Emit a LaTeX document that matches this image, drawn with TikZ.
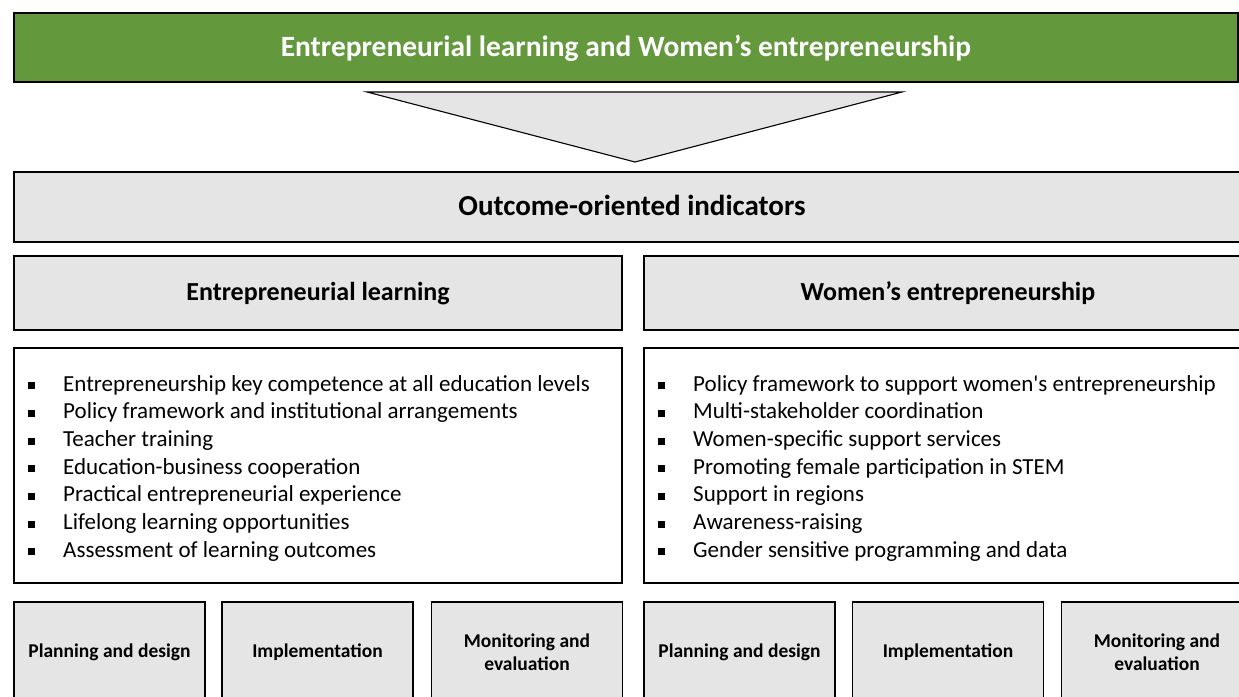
\documentclass[tikz,border=0pt]{standalone}
\usepackage{fontspec}
\setmainfont{Carlito}
\usepackage{xcolor}
\usepackage{tikz}
\usetikzlibrary{positioning}
\definecolor{bannerG}{RGB}{99,152,61}
\definecolor{panelGr}{RGB}{229,229,229}
\newcommand{\sqbullet}{\makebox[35.5pt][l]{\rule[1.9pt]{7pt}{7pt}}}

\begin{document}
\begin{tikzpicture}[
  x=1pt, y=-1pt,
  box/.style={draw, line width=1.2pt, inner sep=2pt},
  banner/.style={box, fill=bannerG, text=white, font=\fontsize{29.4}{34}\selectfont\bfseries, minimum width=1224pt, minimum height=69pt, text height=20.6pt, text depth=3.5pt},
  outc/.style={box, fill=panelGr, font=\fontsize{29}{34}\selectfont\bfseries, minimum width=1236pt, minimum height=70pt, text height=20.3pt, text depth=4.3pt},
  head/.style={box, fill=panelGr, font=\fontsize{26}{31}\selectfont\bfseries, minimum width=608pt, minimum height=74pt, text height=18.2pt, text depth=4.2pt},
  list/.style={box, fill=white, minimum width=608pt, minimum height=235pt},
  stage/.style={box, align=center, fill=panelGr, font=\fontsize{19.5}{23}\selectfont\bfseries, minimum width=191pt, minimum height=100pt},
  item/.style={anchor=west, inner sep=0pt, font=\fontsize{23}{28}\selectfont, text height=16pt, text depth=5pt},
  funnel/.style={draw, line width=1.1pt, fill=panelGr, line join=miter}
]
\useasboundingbox (0,0) rectangle (1239,696);

% top banner and funnel
\node[banner] (top) at (626,47.5) {Entrepreneurial learning and Women’s entrepreneurship};
\draw[funnel] (367,92) -- (902,92) -- (635,162) -- cycle;

\node[outc] (outcome) at (632,207) {Outcome-oriented indicators};

% two columns
\node[head] (elHead) at (318,293) {Entrepreneurial learning};
\node[head] (weHead) at (948,293) {Women’s entrepreneurship};

\node[list] (elList) at (318,465.5) {};
\node[list] (weList) at (948,465.5) {};

% entrepreneurial learning items
\node[item] (el1) at (27.5,385.5) {\sqbullet Entrepreneurship key competence at all education levels};
\node[item] (el2) at (27.5,413.2) {\sqbullet Policy framework and institutional arrangements};
\node[item] (el3) at (27.5,440.9) {\sqbullet Teacher training};
\node[item] (el4) at (27.5,468.6) {\sqbullet Education-business cooperation};
\node[item] (el5) at (27.5,496.3) {\sqbullet Practical entrepreneurial experience};
\node[item] (el6) at (27.5,524) {\sqbullet Lifelong learning opportunities};
\node[item] (el7) at (27.5,551.7) {\sqbullet Assessment of learning outcomes};

% women's entrepreneurship items
\node[item] (we1) at (657.5,385.5) {\sqbullet Policy framework to support women\textquotesingle s entrepreneurship};
\node[item] (we2) at (657.5,413.2) {\sqbullet Multi-stakeholder coordination};
\node[item] (we3) at (657.5,440.9) {\sqbullet Women-specific support services};
\node[item] (we4) at (657.5,468.6) {\sqbullet Promoting female participation in STEM};
\node[item] (we5) at (657.5,496.3) {\sqbullet Support in regions};
\node[item] (we6) at (657.5,524) {\sqbullet Awareness-raising};
\node[item] (we7) at (657.5,551.7) {\sqbullet Gender sensitive programming and data};

% policy cycle stages
\node[stage] (elPlan) at (109.5,652) {Planning and design};
\node[stage] (elImpl) at (317.5,652) {Implementation};
\node[stage] (elMon) at (527,652) {Monitoring and\\evaluation};
\node[stage] (wePlan) at (739.5,652) {Planning and design};
\node[stage] (weImpl) at (948,652) {Implementation};
\node[stage] (weMon) at (1157,652) {Monitoring and\\evaluation};

\end{tikzpicture}
\end{document}
